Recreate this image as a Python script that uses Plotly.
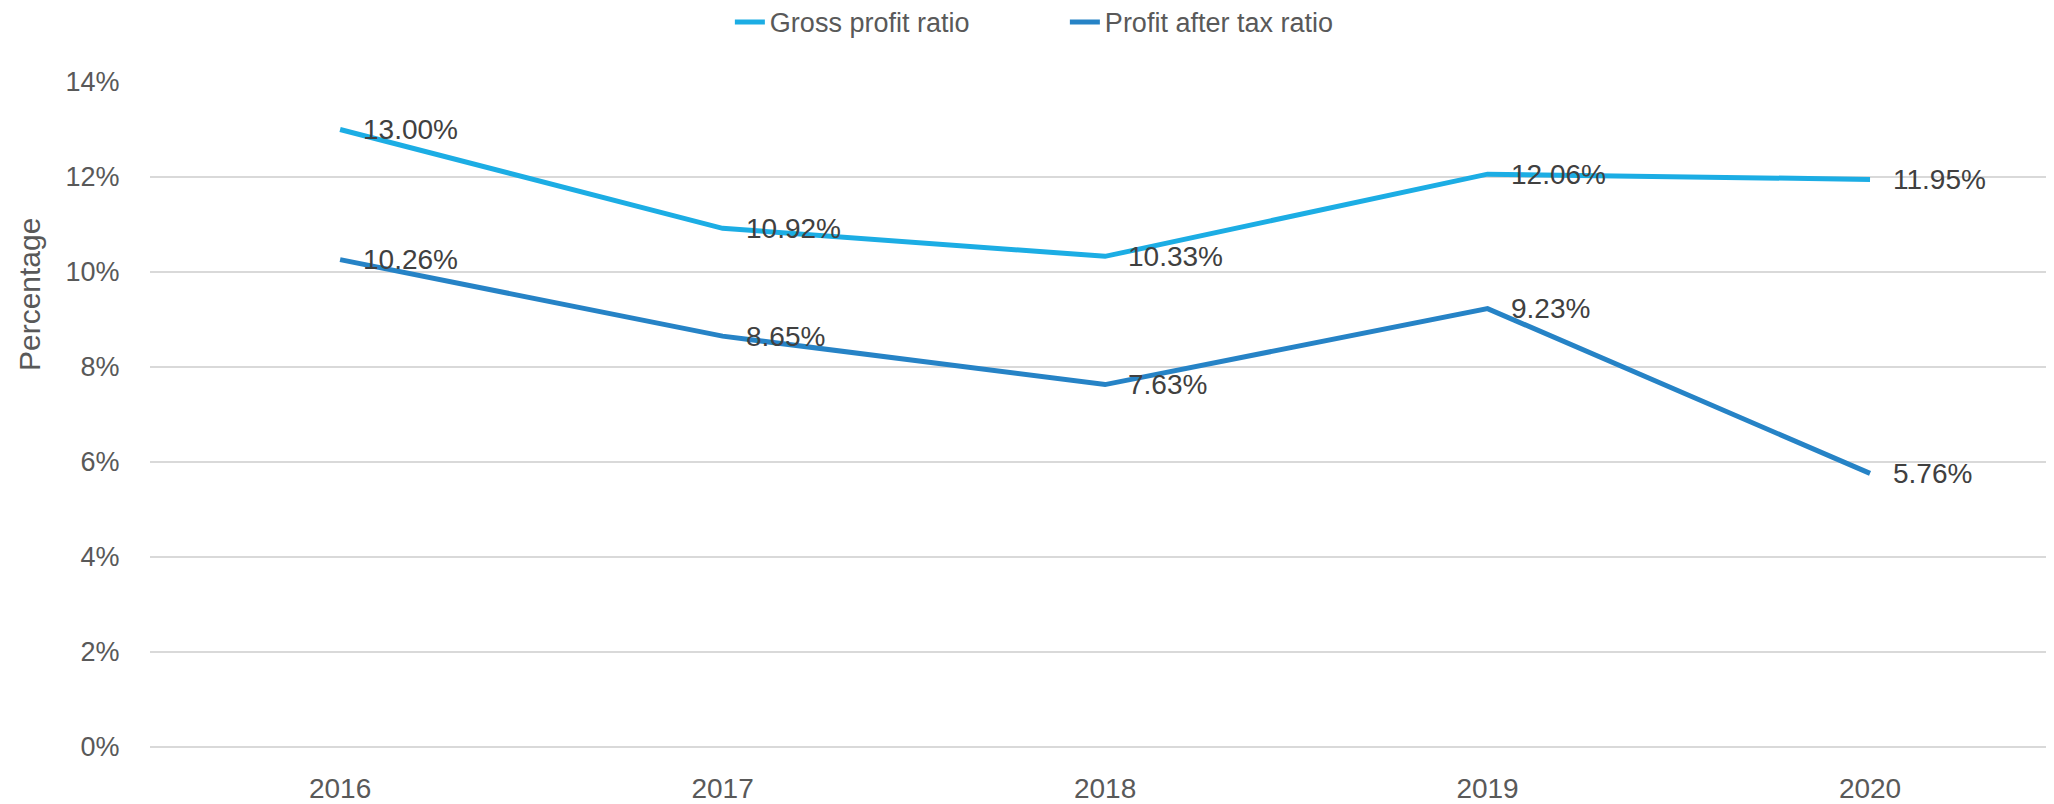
import plotly.graph_objects as go

years = ["2016", "2017", "2018", "2019", "2020"]
gross_profit_ratio = [13.00, 10.92, 10.33, 12.06, 11.95]
profit_after_tax_ratio = [10.26, 8.65, 7.63, 9.23, 5.76]
y_ticks = [0, 2, 4, 6, 8, 10, 12, 14]
y_tick_labels = [f"{v}%" for v in y_ticks]

series = [
    ("Gross profit ratio", gross_profit_ratio, "#1CADE4"),
    ("Profit after tax ratio", profit_after_tax_ratio, "#2683C6"),
]

FONT = "Liberation Sans, Arial, sans-serif"

fig = go.Figure()
annotations = []
for name, vals, color in series:
    fig.add_trace(go.Scatter(
        x=years, y=vals, name=name, mode="lines",
        line=dict(color=color, width=5),
        hoverinfo="skip",
    ))
    for i, v in enumerate(vals):
        # category axis: annotation position given by category index
        annotations.append(dict(
            x=i, y=v, xref="x", yref="y", text=f"{v:.2f}%",
            showarrow=False, xanchor="left", yanchor="middle", xshift=21,
            font=dict(family=FONT, size=28, color="#404040"),
        ))

annotations.append(dict(
    x=-0.0636, y=0.681, xref="paper", yref="paper", text="Percentage",
    showarrow=False, textangle=-90, xanchor="center", yanchor="middle",
    font=dict(family=FONT, size=30, color="#595959"),
))

# page body has an 8px default margin, so the figure is 8px smaller
fig.update_layout(
    width=2046, height=796,
    margin=dict(l=142, r=0, t=74, b=57),
    paper_bgcolor="white", plot_bgcolor="white",
    font=dict(family=FONT, color="#595959"),
    showlegend=True,
    legend=dict(
        orientation="h", xref="paper", yref="container",
        x=0.4805, y=0.982, xanchor="center", yanchor="middle",
        font=dict(family=FONT, size=27, color="#595959"),
        entrywidth=290, traceorder="normal",
    ),
    annotations=annotations,
    xaxis=dict(
        type="category", range=[-0.497, 4.481],
        showgrid=False, zeroline=False, showline=False,
        ticks="outside", ticklen=16, tickcolor="rgba(0,0,0,0)",
        tickfont=dict(family=FONT, size=28, color="#595959"),
    ),
    yaxis=dict(
        range=[0, 14], tickvals=y_ticks, ticktext=y_tick_labels,
        showgrid=True, gridcolor="#D9D9D9", gridwidth=2,
        zeroline=True, zerolinecolor="#D9D9D9", zerolinewidth=2,
        showline=False,
        ticks="outside", ticklen=24, tickcolor="rgba(0,0,0,0)",
        tickfont=dict(family=FONT, size=27, color="#595959"),
    ),
)

fig.write_html("out.html")
